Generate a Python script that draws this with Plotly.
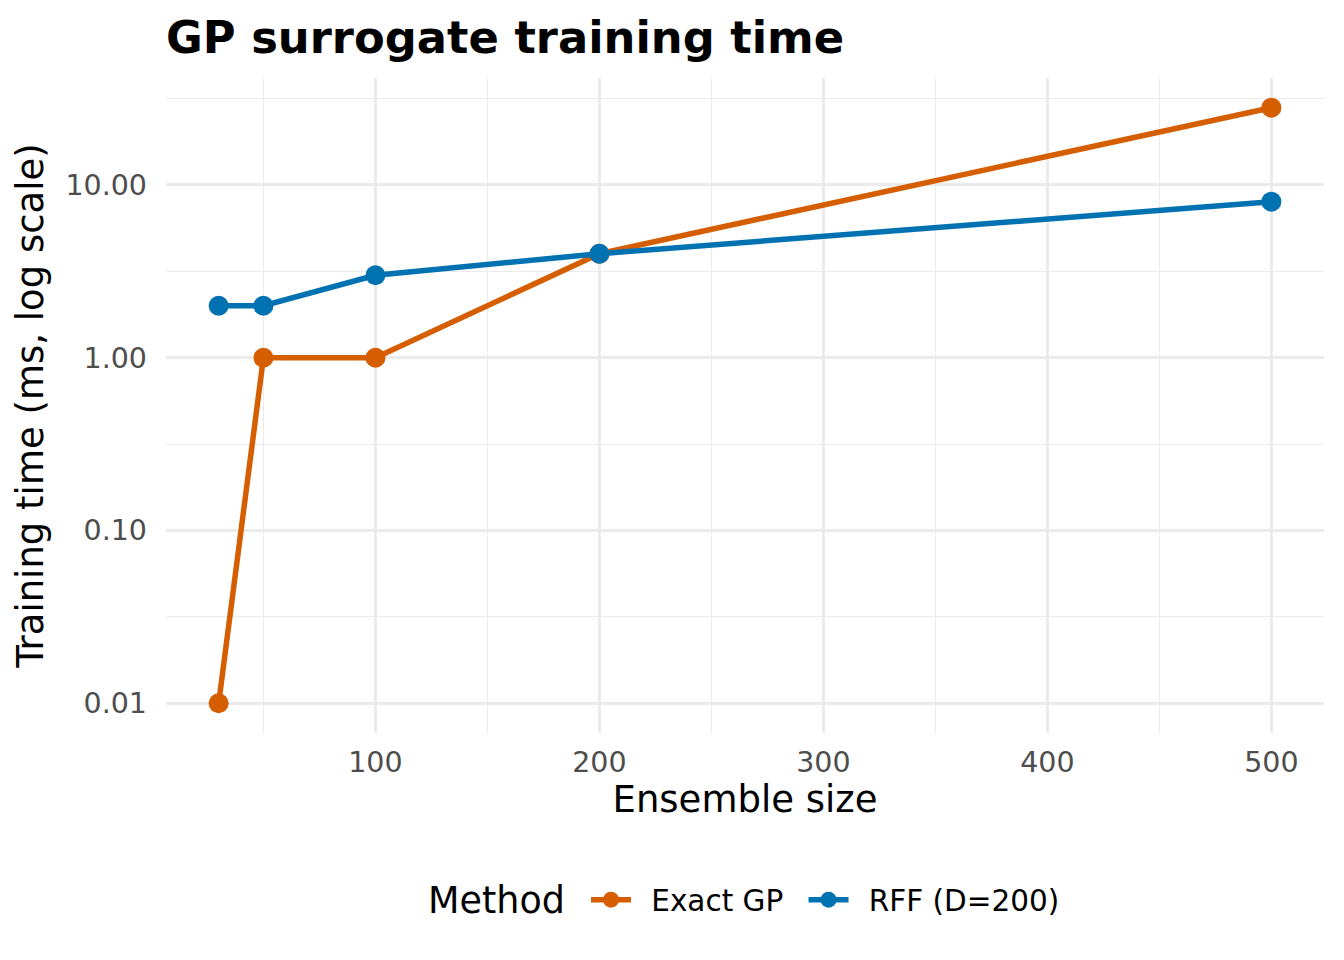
import plotly.graph_objects as go

ensemble_size = [30, 50, 100, 200, 500]
exact_gp_ms = [0.01, 1, 1, 4, 28]
rff_ms = [2, 2, 3, 4, 8]

x_ticks = [100, 200, 300, 400, 500]
x_minor = [50, 150, 250, 350, 450]
y_ticks = [0.01, 0.1, 1, 10]
y_ticktext = ["0.01", "0.10", "1.00", "10.00"]
y_minor = [10 ** -1.5, 10 ** -0.5, 10 ** 0.5, 10 ** 1.5]

ORANGE = "#D55E00"
BLUE = "#0072B2"
GRID = "#EBEBEB"
FONT = "DejaVu Sans"
NB = "\u00a0"
TS = "\u2009"

PLOT_L, PLOT_W = 166, 1158

fig = go.Figure()
fig.add_trace(go.Scatter(x=ensemble_size, y=exact_gp_ms, mode="lines+markers",
                         name=NB + TS + "Exact GP" + NB + TS,
                         line=dict(color=ORANGE, width=5.5), marker=dict(color=ORANGE, size=20)))
fig.add_trace(go.Scatter(x=ensemble_size, y=rff_ms, mode="lines+markers",
                         name=NB + TS + "RFF (D=200)",
                         line=dict(color=BLUE, width=5.5), marker=dict(color=BLUE, size=20)))

fig.add_annotation(text="Method", xref="paper", yref="paper",
                   x=(567 - PLOT_L) / PLOT_W, xanchor="right", y=-0.255, yanchor="middle",
                   showarrow=False, font=dict(size=36.5, family=FONT, color="black"))

fig.update_layout(
    width=1344, height=960,
    paper_bgcolor="white", plot_bgcolor="white",
    margin=dict(l=166, r=20, t=78, b=227),
    font=dict(family=FONT, color="black"),
    title=dict(text="<b>GP surrogate training time</b>", x=166 / 1344, xanchor="left",
               y=1 - 37 / 960, yanchor="middle", font=dict(size=44.8, family=FONT, color="black")),
    showlegend=True,
    legend=dict(orientation="h", x=(586 - PLOT_L) / PLOT_W, xanchor="left", y=-0.255, yanchor="middle",
                font=dict(size=29.5, family=FONT), itemwidth=40, valign="middle"),
)
fig.update_xaxes(
    range=[6.5, 523.5], tickmode="array", tickvals=x_ticks, ticktext=[str(v) for v in x_ticks],
    showgrid=True, gridcolor=GRID, gridwidth=2.7, zeroline=False, showline=False,
    ticks="", tickfont=dict(size=28.5, color="#4D4D4D", family=FONT), ticklabelstandoff=9,
    minor=dict(tickvals=x_minor, showgrid=True, gridcolor=GRID, gridwidth=1.4, ticks=""),
    title=dict(text="Ensemble size", font=dict(size=37, family=FONT), standoff=8),
)
fig.update_yaxes(
    type="log", range=[-2.172, 1.619], tickmode="array", tickvals=y_ticks, ticktext=y_ticktext,
    showgrid=True, gridcolor=GRID, gridwidth=2.7, zeroline=False, showline=False,
    ticks="", tickfont=dict(size=28.5, color="#4D4D4D", family=FONT), ticklabelstandoff=18,
    minor=dict(tickvals=y_minor, showgrid=True, gridcolor=GRID, gridwidth=1.4, ticks=""),
    title=dict(text="Training time (ms, log scale)", font=dict(size=37, family=FONT), standoff=10),
)

fig.write_html("out.html")
